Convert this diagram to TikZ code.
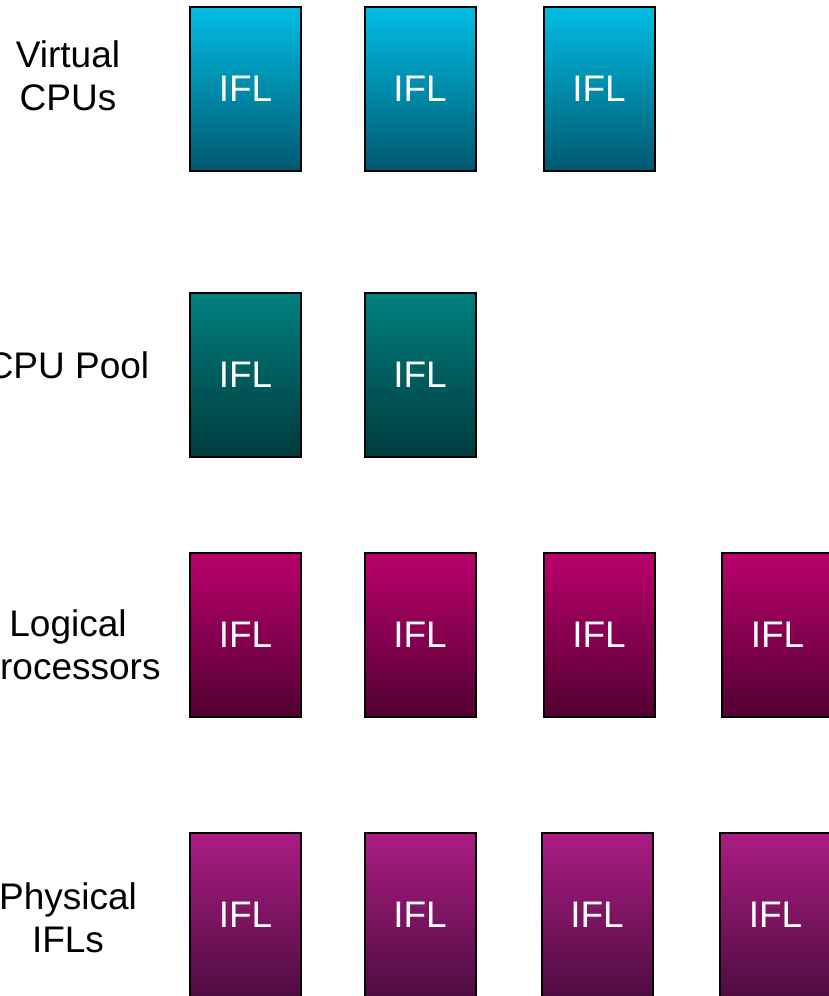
\documentclass[tikz,border=0pt]{standalone}
\usepackage{fontspec}
\setmainfont{Liberation Sans}
\usepackage{tikz}
\usetikzlibrary{calc}

\definecolor{vtop}{RGB}{0,190,228}
\definecolor{vbot}{RGB}{0,88,112}
\definecolor{ptop}{RGB}{0,128,128}
\definecolor{pbot}{RGB}{0,58,60}
\definecolor{ltop}{RGB}{186,0,108}
\definecolor{lbot}{RGB}{82,0,50}
\definecolor{ftop}{RGB}{172,28,132}
\definecolor{fbot}{RGB}{78,12,64}

\tikzset{
  ifl/.style={draw=black, line width=2pt, minimum width=111pt, minimum height=164pt,
    inner sep=0pt, text=white, font=\fontsize{37}{43}\selectfont},
  rowlabel/.style={align=center, font=\fontsize{37}{43}\selectfont, inner sep=0pt},
}

\begin{document}
\begin{tikzpicture}[x=1pt,y=-1pt]
  \useasboundingbox (0,0) rectangle (829,996);
  \fill[white] (0,0) rectangle (829,996);
  % Virtual CPUs
  \node[rowlabel] (lv) at (68,76) {Virtual\\CPUs};
  \foreach \x/\n in {245.5/1,420/2,599/3}
    \node[ifl, top color=vtop, bottom color=vbot] (v\n) at (\x,89) {IFL};
  % CPU Pool
  \node[rowlabel] (lp) at (68,365) {CPU Pool};
  \foreach \x/\n in {245.5/1,420/2}
    \node[ifl, top color=ptop, bottom color=pbot] (p\n) at (\x,375) {IFL};
  % Logical processors
  \node[rowlabel] (ll) at (68,645) {Logical\\Processors};
  \foreach \x/\n in {245.5/1,420/2,599/3,777.5/4}
    \node[ifl, top color=ltop, bottom color=lbot] (l\n) at (\x,635) {IFL};
  % Physical IFLs
  \node[rowlabel] (lf) at (68,918) {Physical\\IFLs};
  \foreach \x/\n in {245.5/1,420/2,597/3,775.5/4}
    \node[ifl, top color=ftop, bottom color=fbot] (f\n) at (\x,915) {IFL};
\end{tikzpicture}
\end{document}
